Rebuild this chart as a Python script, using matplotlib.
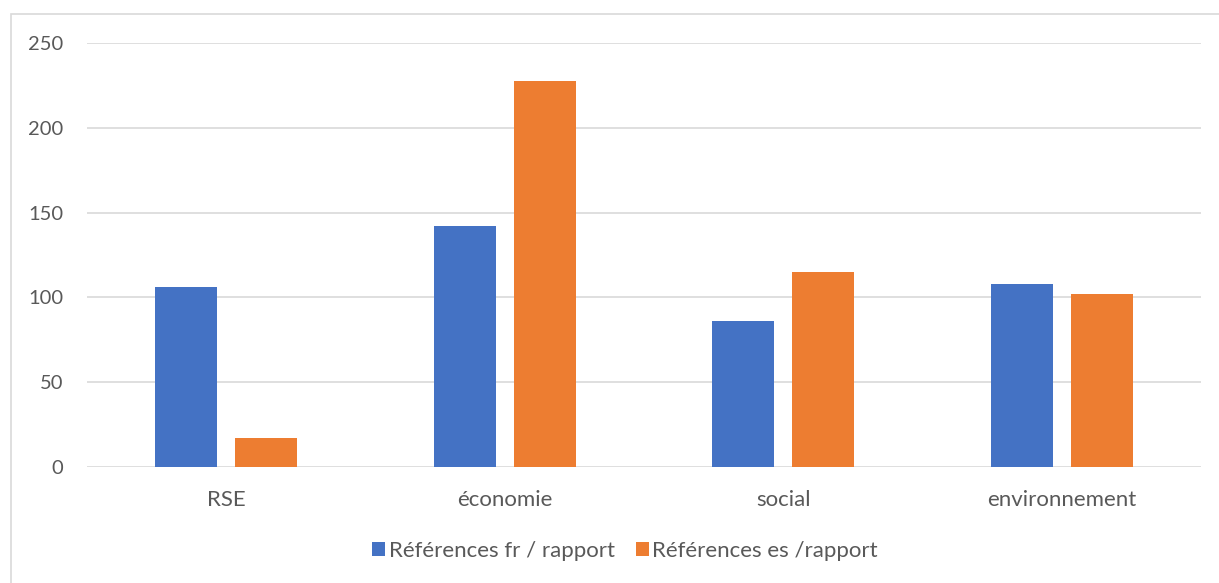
import numpy as np
import matplotlib
matplotlib.use('Agg')
import matplotlib.pyplot as plt
from matplotlib.patches import Rectangle

categories = ['RSE', 'économie', 'social', 'environnement']
fr_refs = [106, 142, 86, 108]
es_refs = [17, 228, 115, 102]
series_names = ['Références fr / rapport', 'Références es /rapport']
yticks = [0, 50, 100, 150, 200, 250]

blue = '#4472C4'
orange = '#ED7D31'
txt = '#595959'

plt.rcParams['font.family'] = ['Lato', 'DejaVu Sans']

fig = plt.figure(figsize=(12.19, 5.83), dpi=100)
W, H = 1219, 583
# plot area in pixels: x 87..1201, y 43..466.5
ax = fig.add_axes([87 / W, 1 - 466.5 / H, (1201 - 87) / W, (466.5 - 43.3) / H])

# chart border
fig.patches.append(Rectangle((11 / W, -0.05), 1.1, 1 - 14 / H + 0.05,
                             transform=fig.transFigure, fill=False,
                             edgecolor='#d9d9d9', linewidth=1.2))

x = np.arange(len(categories))
w = 0.223
off = 0.1435
ax.bar(x - off, fr_refs, w, color=blue, label=series_names[0], zorder=3)
ax.bar(x + off, es_refs, w, color=orange, label=series_names[1], zorder=3)

ax.set_xlim(-0.5, len(categories) - 0.5)
ax.set_ylim(0, 250)
ax.set_yticks(yticks)
ax.set_xticks(x)
ax.set_xticklabels(categories)
ax.grid(axis='y', color='#d9d9d9', linewidth=1.2, zorder=0)
for s in ax.spines.values():
    s.set_visible(False)
ax.tick_params(length=0, colors=txt)
ax.tick_params(axis='y', pad=17, labelsize=14.5)
ax.tick_params(axis='x', pad=17, labelsize=16)

ax.legend(loc='center', bbox_to_anchor=(0.483, -0.2), ncol=2, frameon=False,
          fontsize=16, labelcolor=txt, handlelength=0.6, handleheight=0.6,
          handletextpad=0.15, columnspacing=0.95)

fig.savefig('out.png', dpi=100)
